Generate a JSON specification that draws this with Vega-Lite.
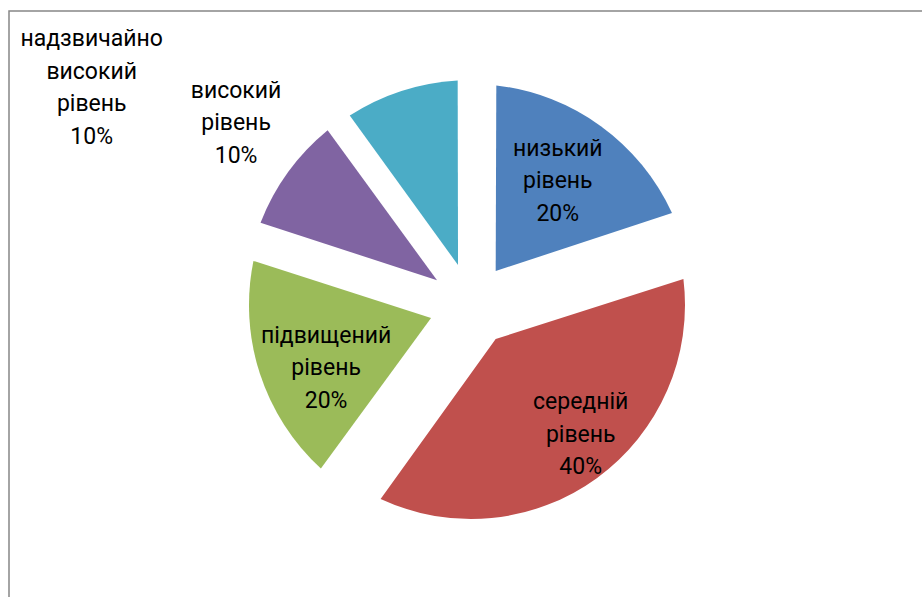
{
  "$schema": "https://vega.github.io/schema/vega-lite/v6.json",
  "autosize": {"type": "none"},
  "padding": {"left": 9, "top": 11, "right": -11, "bottom": -2},
  "width": 924,
  "height": 588,
  "background": "white",
  "view": {"stroke": "#878787", "strokeWidth": 1.5},
  "data": {
    "values": [
      {"level": "низький рівень", "pct": 20, "n": 1, "label": "низький\nрівень\n20%"},
      {"level": "середній рівень", "pct": 40, "n": 2, "label": "середній\nрівень\n40%"},
      {"level": "підвищений рівень", "pct": 20, "n": 3, "label": "підвищений\nрівень\n20%"},
      {"level": "високий рівень", "pct": 10, "n": 4, "label": "високий\nрівень\n10%"},
      {"level": "надзвичайно високий рівень", "pct": 10, "n": 5, "label": "надзвичайно\nвисокий\nрівень\n10%"}
    ]
  },
  "encoding": {
    "theta": {"field": "pct", "type": "quantitative", "stack": true},
    "order": {"field": "n", "type": "quantitative"}
  },
  "layer": [
    {
      "encoding": {
        "color": {
          "field": "level",
          "type": "nominal",
          "legend": null,
          "scale": {
            "domain": ["низький рівень", "середній рівень", "підвищений рівень", "високий рівень", "надзвичайно високий рівень"],
            "range": ["#4F81BD", "#C0504D", "#9BBB59", "#8064A2", "#4BACC6"]
          }
        }
      },
      "layer": [
        {"mark": {"type": "arc", "innerRadius": 42, "outerRadius": 221, "padAngle": 0.2255},
         "encoding": {"fillOpacity": {"condition": {"test": "datum.n === 1", "value": 1}, "value": 0}}},
        {"mark": {"type": "arc", "innerRadius": 42, "outerRadius": 214, "padAngle": 0.377},
         "encoding": {"fillOpacity": {"condition": {"test": "datum.n === 2", "value": 1}, "value": 0}}},
        {"mark": {"type": "arc", "innerRadius": 42, "outerRadius": 222, "padAngle": 0.2245},
         "encoding": {"fillOpacity": {"condition": {"test": "datum.n === 3", "value": 1}, "value": 0}}},
        {"mark": {"type": "arc", "innerRadius": 42, "outerRadius": 226, "padAngle": 0.1158},
         "encoding": {"fillOpacity": {"condition": {"test": "datum.n === 4", "value": 1}, "value": 0}}},
        {"mark": {"type": "arc", "innerRadius": 42, "outerRadius": 225, "padAngle": 0.1165},
         "encoding": {"fillOpacity": {"condition": {"test": "datum.n === 5", "value": 1}, "value": 0}}}
      ]
    },
    {
      "mark": {"type": "text", "radius": 151, "thetaOffset": -0.016, "dy": -32.5, "font": "Roboto", "fontSize": 23, "lineBreak": "\n", "lineHeight": 32.5, "fill": "black", "align": "center", "baseline": "middle"},
      "encoding": {"text": {"field": "label"}, "detail": {"field": "level"}, "opacity": {"condition": {"test": "datum.n === 1", "value": 1}, "value": 0}}
    },
    {
      "mark": {"type": "text", "radius": 170, "thetaOffset": -0.073, "dy": -32.5, "font": "Roboto", "fontSize": 23, "lineBreak": "\n", "lineHeight": 32.5, "fill": "black", "align": "center", "baseline": "middle"},
      "encoding": {"text": {"field": "label"}, "detail": {"field": "level"}, "opacity": {"condition": {"test": "datum.n === 2", "value": 1}, "value": 0}}
    },
    {
      "mark": {"type": "text", "radius": 158, "thetaOffset": -0.096, "dy": -32.5, "font": "Roboto", "fontSize": 23, "lineBreak": "\n", "lineHeight": 32.5, "fill": "black", "align": "center", "baseline": "middle"},
      "encoding": {"text": {"field": "label"}, "detail": {"field": "level"}, "opacity": {"condition": {"test": "datum.n === 3", "value": 1}, "value": 0}}
    },
    {
      "mark": {"type": "text", "radius": 297, "thetaOffset": 0.03, "dy": -32.5, "font": "Roboto", "fontSize": 23, "lineBreak": "\n", "lineHeight": 32.5, "fill": "black", "align": "center", "baseline": "middle"},
      "encoding": {"text": {"field": "label"}, "detail": {"field": "level"}, "opacity": {"condition": {"test": "datum.n === 4", "value": 1}, "value": 0}}
    },
    {
      "mark": {"type": "text", "radius": 437, "thetaOffset": -0.737, "dy": -48.75, "font": "Roboto", "fontSize": 23, "lineBreak": "\n", "lineHeight": 32.5, "fill": "black", "align": "center", "baseline": "middle"},
      "encoding": {"text": {"field": "label"}, "detail": {"field": "level"}, "opacity": {"condition": {"test": "datum.n === 5", "value": 1}, "value": 0}}
    }
  ]
}
